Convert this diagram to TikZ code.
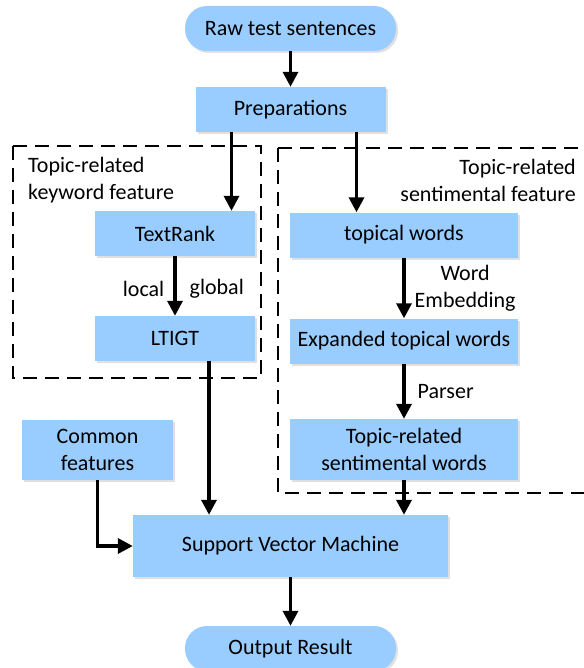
\documentclass[tikz,border=0pt]{standalone}
\usepackage{fontspec}
\setmainfont{Carlito}
\usepackage{tikz}
\usetikzlibrary{shapes.geometric, arrows.meta, shadows}
\definecolor{boxblue}{HTML}{99CCFF}
\tikzstyle{startstop} = [rectangle, rounded corners=22pt, minimum width=211pt, minimum height=45pt, text centered, fill=boxblue, drop shadow={shadow xshift=2pt, shadow yshift=-2pt, fill=black!12, opacity=1}]
\tikzstyle{process} = [rectangle, minimum height=45pt, text centered, align=center, fill=boxblue, drop shadow={shadow xshift=2pt, shadow yshift=-2pt, fill=black!12, opacity=1}]
\tikzstyle{arrow} = [line width=3.4pt, -{Triangle[length=15pt, width=15pt]}]
\tikzstyle{groupbox} = [line width=2.4pt, dash pattern=on 14pt off 8pt]

\begin{document}
\begin{tikzpicture}[x=1pt, y=1pt, node distance=81pt, font=\fontsize{22}{27}\selectfont]
\useasboundingbox (0,0) rectangle (583,-668);
% dashed feature groups
\draw [groupbox] (13,-146) rectangle (261,-378);
\draw [groupbox] (278,-148) rectangle (600,-493);
\node (kwlabel) [anchor=west, align=left, inner sep=0pt] at (28,-180) {Topic-related\\keyword feature};
\node (stlabel) [anchor=east, align=right, inner sep=0pt] at (576,-180) {Topic-related\\sentimental feature};

\node (raw) [startstop] at (290.5,-28.5) {Raw test sentences};
\node (prep) [process, minimum width=190pt, below of=raw] {Preparations};
\node (textrank) [process, minimum width=160pt] at (175,-233.5) {TextRank};
\node (ltigt) [process, minimum width=160pt, below of=textrank, yshift=-24pt] {LTIGT};
\node (topical) [process, minimum width=228pt] at (404,-235) {topical words};
\node (expanded) [process, minimum width=228pt, below of=topical, yshift=-25pt] {Expanded topical words};
\node (trsw) [process, minimum width=228pt, minimum height=61pt, below of=expanded, yshift=-27.5pt] {Topic-related\\sentimental words};
\node (common) [process, minimum width=151pt, minimum height=60pt] at (97.5,-450) {Common\\features};
\node (svm) [process, minimum width=315pt, minimum height=62pt] at (290.5,-546) {Support Vector Machine};
\node (out) [startstop, below of=svm, yshift=-21.5pt] {Output Result};

\draw [arrow] (raw) -- (prep);
\draw [arrow] ([xshift=-59pt]prep.south) -- ([xshift=-59pt]prep.south |- textrank.north);
\draw [arrow] ([xshift=66pt]prep.south) -- ([xshift=66pt]prep.south |- topical.north);
\draw [arrow] (textrank) -- node[left, inner sep=9pt, yshift=-3pt] {local} node[right, inner sep=13pt, yshift=-3pt] {global} (ltigt);
\draw [arrow] (topical) -- node[right, align=center, inner sep=9pt] {Word\\Embedding} (expanded);
\draw [arrow] (expanded) -- node[right, inner sep=12pt] {Parser} (trsw);
\draw [arrow] ([xshift=34pt]ltigt.south) -- ([xshift=34pt]ltigt.south |- svm.north);
\draw [arrow] (trsw) -- (trsw |- svm.north);
\draw [arrow] (common.south) |- (svm.west);
\draw [arrow] (svm) -- (out);
\end{tikzpicture}
\end{document}
